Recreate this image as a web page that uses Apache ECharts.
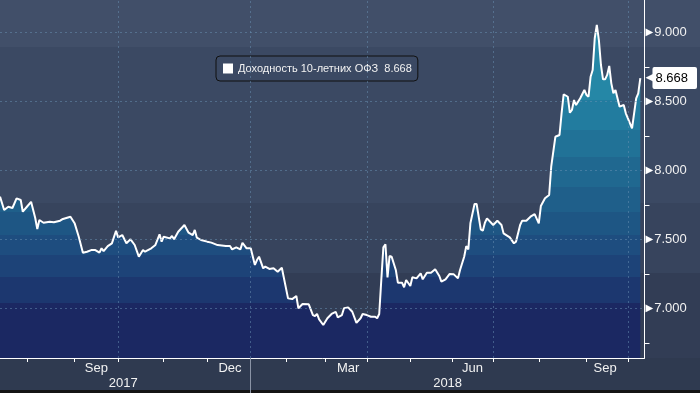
<!DOCTYPE html>
<html>
<head>
<meta charset="utf-8">
<script src="https://cdn.jsdelivr.net/npm/echarts@6/dist/echarts.min.js"></script>
<style>
html,body{margin:0;padding:0;}
body{width:700px;height:393px;overflow:hidden;
background:linear-gradient(to bottom,#414f69 0px,#414f69 47px,#3b4963 47px,#3b4963 203px,#37445d 203px,#37445d 273px,#323d55 273px,#323d55 358px,#2f3a50 358px,#2f3a50 390px,#141414 390px,#141414 393px);}
#c{width:700px;height:393px;}
</style>
</head>
<body>
<div id="c"></div>
<script>
const seriesName = 'Доходность 10-летних ОФЗ';
// x = trading-day index from mid-July 2017
const days = [0,2,4,6,8,10,11,13,15,17,18,19,21,24,26,29,30,34,36,38,40,42,44,46,48,49,50,52,54,56,57,59,61,63,65,67,69,70,73,75,77,78,79,82,83,84,86,89,91,93,94,95,97,100,102,105,109,111,112,114,116,117,119,121,123,124,125,127,128,130,132,134,136,139,141,143,144,146,149,151,152,153,154,156,158,160,162,163,165,166,168,170,172,174,175,177,179,181,182,183,184,185,186,187,188,189,191,192,194,195,196,198,199,201,203,204,206,208,210,212,213,215,217,219,221,222,224,225,226,227,229,230,232,233,234,235,238,240,242,243,246,248,249,251,252,254,256,258,260,261,263,265,266,268,270,271,272,274,275,276,277,278,280,282,283,284,285,286,287,288,289,290,291,292,293,294,295,296,297,299,301,302,305,307,308,309];
const yields = [7.809,7.712,7.736,7.727,7.797,7.785,7.700,7.736,7.772,7.654,7.575,7.640,7.620,7.628,7.623,7.635,7.645,7.664,7.617,7.519,7.403,7.410,7.422,7.422,7.403,7.435,7.415,7.451,7.471,7.562,7.514,7.531,7.471,7.500,7.459,7.374,7.422,7.410,7.435,7.459,7.536,7.483,7.519,7.507,7.524,7.500,7.555,7.604,7.548,7.531,7.568,7.512,7.495,7.483,7.476,7.458,7.451,7.451,7.427,7.442,7.427,7.475,7.435,7.435,7.314,7.350,7.374,7.290,7.302,7.285,7.290,7.265,7.294,7.072,7.067,7.089,7.000,7.031,7.029,6.951,6.944,6.959,6.920,6.879,6.928,6.959,6.975,6.935,6.951,7.000,7.007,6.975,6.895,6.928,6.959,6.951,6.939,6.939,6.928,6.959,7.205,7.442,7.464,7.224,7.379,7.374,7.278,7.186,7.186,7.152,7.205,7.162,7.225,7.217,7.254,7.210,7.258,7.258,7.283,7.234,7.193,7.210,7.249,7.246,7.217,7.278,7.374,7.451,7.427,7.616,7.756,7.756,7.572,7.562,7.620,7.652,7.604,7.635,7.604,7.543,7.514,7.471,7.483,7.604,7.635,7.635,7.664,7.683,7.616,7.741,7.797,7.821,8.026,8.243,8.256,8.413,8.551,8.533,8.417,8.437,8.509,8.473,8.522,8.582,8.546,8.534,8.678,8.727,8.957,9.053,8.944,8.763,8.659,8.659,8.691,8.756,8.630,8.558,8.582,8.461,8.473,8.413,8.304,8.522,8.558,8.668];
const lastValue = yields[yields.length - 1];
const monthStarts = [13,36,57,79,100,121,138,157,177,198,218,238,260,283,303];
const quarterStarts = [57,121,177,238,303];
const monthLabelPos = [46.5,111,168,228,292];
const monthLabels = ['Sep','Dec','Mar','Jun','Sep'];
const yearLabelPos = [59.5,216];
const yearLabels = ['2017','2018'];
const yearBreaks = [121];
const yLabelValues = [7,7.5,8,8.5,9];
const yMinorTicks = [6.75,7.25,7.75,8.25,8.75];
const xMin = 0, xMax = 311, yMin = 6.64, yMax = 9.234;

const chart = echarts.init(document.getElementById('c'), null, {renderer:'canvas'});

const bandEdges = [100,130,157,187,212,235,255,277,303,328];
const bandColors = ['#2587a6','#227c9f','#217297','#206890','#1f5f8a','#1e5684','#1e4d7f','#1d4378','#1c376f','#1b2862'];
const stops = [];
let prev = 0;
for (let i = 0; i < bandColors.length; i++) {
  const end = i < bandEdges.length ? bandEdges[i] : 358;
  stops.push({offset: prev/358, color: bandColors[i]});
  stops.push({offset: end/358, color: bandColors[i]});
  prev = end;
}

const font = 'Liberation Sans, Arial, sans-serif';
const gridColor = 'rgba(105,145,180,0.5)';

chart.setOption({
  animation: false,
  backgroundColor: 'transparent',
  textStyle: {fontFamily: font},
  grid: {left: 0, right: 46, top: 0, bottom: 35, containLabel: false},
  legend: {
    data: [seriesName],
    left: 216, top: 56,
    padding: [7, 6, 7, 7],
    borderColor: '#101010', borderWidth: 1, borderRadius: 4,
    icon: 'rect', itemWidth: 10, itemHeight: 10,
    itemStyle: {color: '#ffffff'},
    formatter: n => n + '  ' + lastValue.toFixed(3),
    textStyle: {color: '#f2f2f2', fontSize: 11, fontFamily: font}
  },
  xAxis: [{
    type: 'value', min: xMin, max: xMax, position: 'bottom',
    axisLine: {show: true, onZero: false, lineStyle: {color: '#ffffff', width: 1}},
    axisTick: {show: true, customValues: monthStarts, length: 4, lineStyle: {color: '#ffffff'}},
    axisLabel: {customValues: monthLabelPos, formatter: v => monthLabels[monthLabelPos.indexOf(v)] || '',
      color: '#f2f2f2', fontSize: 13, margin: 4, fontFamily: font},
    splitLine: {show: false}
  }, {
    type: 'value', min: xMin, max: xMax, position: 'bottom',
    axisLine: {show: false, onZero: false},
    axisTick: {show: true, customValues: yearBreaks, length: 35, lineStyle: {color: '#8a93a5'}},
    axisLabel: {customValues: yearLabelPos, formatter: v => yearLabels[yearLabelPos.indexOf(v)] || '',
      color: '#f2f2f2', fontSize: 13, margin: 19, fontFamily: font},
    splitLine: {show: false}
  }],
  yAxis: [{
    type: 'value', min: yMin, max: yMax, position: 'right',
    axisLine: {show: true, onZero: false, lineStyle: {color: '#ffffff', width: 1}},
    axisTick: {show: true, inside: false, customValues: yMinorTicks, length: 5, lineStyle: {color: '#ffffff'}},
    axisLabel: {customValues: yLabelValues, margin: 1,
      formatter: v => '{t|▶}{v|' + v.toFixed(3) + '}',
      rich: {t: {fontFamily: 'DejaVu Sans', fontSize: 10, color: '#ffffff', padding: [0, 1, 0, 0]},
             v: {fontFamily: font, fontSize: 13, color: '#f2f2f2'}}},
    splitLine: {show: false}
  }, {
    type: 'value', min: yMin, max: yMax, position: 'right',
    axisLine: {show: false, onZero: false}, axisTick: {show: false},
    axisLabel: {customValues: [lastValue], margin: 1,
      formatter: v => '{a|◀}{b|' + v.toFixed(3) + '}',
      rich: {a: {fontFamily: 'DejaVu Sans', fontSize: 13, color: '#ffffff', padding: [0, -3, 0, 0]},
             b: {fontFamily: font, fontSize: 13, color: '#000000', backgroundColor: '#ffffff',
                 padding: [5, 9, 4, 3], borderRadius: 2}}},
    splitLine: {show: false}
  }],
  series: [{
    name: seriesName, type: 'line',
    xAxisIndex: 0, yAxisIndex: 0,
    data: days.map((d, i) => [d, yields[i]]),
    showSymbol: false, symbol: 'none',
    itemStyle: {color: '#ffffff'},
    lineStyle: {color: '#ffffff', width: 2},
    areaStyle: {opacity: 1, origin: 'start',
      color: {type: 'linear', x: 0, y: 0, x2: 0, y2: 358, global: true, colorStops: stops}},
    markLine: {
      silent: true, symbol: ['none', 'none'], label: {show: false},
      lineStyle: {color: gridColor, type: [2, 3], width: 1},
      data: yLabelValues.map(v => ({yAxis: v})).concat(quarterStarts.map(v => ({xAxis: v})))
    }
  }]
});
</script>
</body>
</html>
